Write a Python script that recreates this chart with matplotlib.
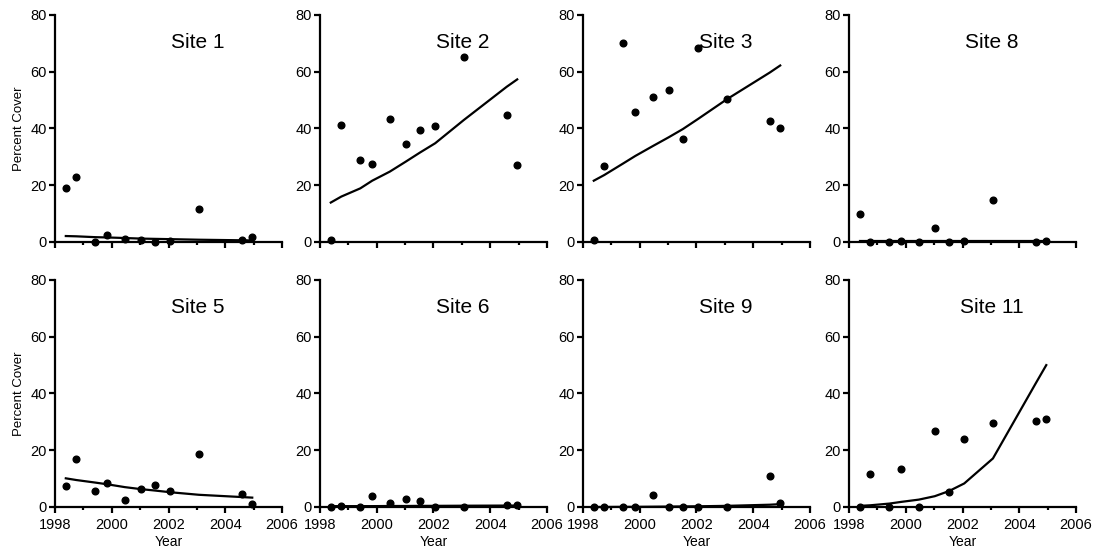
import matplotlib
matplotlib.use("Agg")
import matplotlib.pyplot as plt
from matplotlib.ticker import MultipleLocator

plt.rcParams["font.family"] = ["Liberation Sans", "DejaVu Sans"]

# Sampling dates (decimal years), shared by all sites
years = [1998.38, 1998.75, 1999.42, 1999.84, 2000.46, 2001.02,
         2001.52, 2002.06, 2003.07, 2004.58, 2004.95]

# Observed percent cover
site1_obs = [18.9, 23.0, 0.0, 2.6, 1.2, 0.7, 0.0, 0.2, 11.5, 0.8, 1.6]
site2_obs = [0.7, 41.3, 28.9, 27.5, 43.4, 34.5, 39.5, 40.9, 65.1, 44.7, 27.1]
site3_obs = [0.7, 26.8, 70.2, 45.8, 51.2, 53.6, 36.4, 68.5, 50.5, 42.7, 40.3]
site8_obs = [9.8, 0.0, 0.0, 0.5, 0.0, 5.0, 0.0, 0.5, 14.7, 0.0, 0.5]
site5_obs = [7.4, 16.8, 5.6, 8.5, 2.6, 6.5, 7.6, 5.8, 18.7, 4.6, 0.9]
site6_obs = [0.0, 0.5, 0.0, 3.9, 1.3, 2.7, 2.0, 0.0, 0.0, 0.8, 0.7]
site9_obs = [0.0, 0.0, 0.0, 0.0, 4.4, 0.0, 0.0, 0.1, 0.0, 10.8, 1.3]
site11_obs = [0.0, 11.5, 0.0, 13.3, 0.0, 26.7, 5.4, 23.9, 29.6, 30.4, 31.1]

# Fitted curve values at the same dates
site1_fit = [2.1, 2.0, 1.7, 1.6, 1.4, 1.2, 1.1, 1.0, 0.8, 0.6, 0.55]
site2_fit = [13.9, 16.0, 18.9, 21.6, 24.8, 28.3, 31.5, 34.8, 43.0, 54.7, 57.3]
site3_fit = [21.6, 23.6, 27.7, 30.3, 33.8, 36.9, 39.8, 43.4, 50.3, 59.7, 62.2]
site8_fit = [0.3, 0.3, 0.3, 0.3, 0.3, 0.3, 0.3, 0.3, 0.3, 0.3, 0.3]
site5_fit = [10.1, 9.5, 8.6, 8.0, 7.0, 6.3, 5.8, 5.2, 4.3, 3.5, 3.3]
site6_fit = [0.3, 0.3, 0.3, 0.3, 0.35, 0.35, 0.4, 0.4, 0.45, 0.5, 0.5]
site9_fit = [0.0, 0.0, 0.05, 0.05, 0.1, 0.15, 0.2, 0.25, 0.4, 0.8, 1.0]
site11_fit = [0.4, 0.6, 1.2, 1.8, 2.6, 3.8, 5.6, 8.3, 17.1, 43.6, 50.0]

site_names = ["Site 1", "Site 2", "Site 3", "Site 8",
              "Site 5", "Site 6", "Site 9", "Site 11"]
site_obs = [site1_obs, site2_obs, site3_obs, site8_obs,
            site5_obs, site6_obs, site9_obs, site11_obs]
site_fit = [site1_fit, site2_fit, site3_fit, site8_fit,
            site5_fit, site6_fit, site9_fit, site11_fit]


def main():
    fig = plt.figure(figsize=(10.94, 5.53), dpi=100)

    lefts = [0.0503, 0.2925, 0.5329, 0.7761]
    bottoms = [0.5624, 0.0832]
    w, h = 0.2075, 0.4105

    for i, (name, obs, fit) in enumerate(zip(site_names, site_obs, site_fit)):
        row, col = divmod(i, 4)
        ax = fig.add_axes([lefts[col], bottoms[row], w, h])

        ax.plot(years, fit, color="black", lw=1.6, clip_on=False, zorder=2)
        ax.plot(years, obs, "o", color="black", ms=4.8, clip_on=False, zorder=3)

        ax.set_xlim(1998, 2006)
        ax.set_ylim(0, 80)
        ax.xaxis.set_major_locator(MultipleLocator(2))
        ax.xaxis.set_minor_locator(MultipleLocator(1))
        ax.yaxis.set_major_locator(MultipleLocator(20))

        for side in ["top", "right"]:
            ax.spines[side].set_visible(False)
        for side in ["left", "bottom"]:
            ax.spines[side].set_linewidth(1.6)

        ax.tick_params(axis="both", which="major", length=4, width=1.6,
                       labelsize=10.5, pad=2)
        ax.tick_params(axis="x", which="major", pad=4)
        ax.tick_params(axis="x", which="minor", length=2.5, width=1.6)

        if row == 0:
            ax.tick_params(axis="x", labelbottom=False)
        else:
            ax.set_xlabel("Year", fontsize=10, labelpad=2)
        if col == 0:
            ax.set_ylabel("Percent Cover", fontsize=9.5, labelpad=4)

        ax.text(0.63, 0.88, name, transform=ax.transAxes, fontsize=15,
                ha="center", va="center")

    plt.savefig("out.png", dpi=100)


if __name__ == "__main__":
    main()
